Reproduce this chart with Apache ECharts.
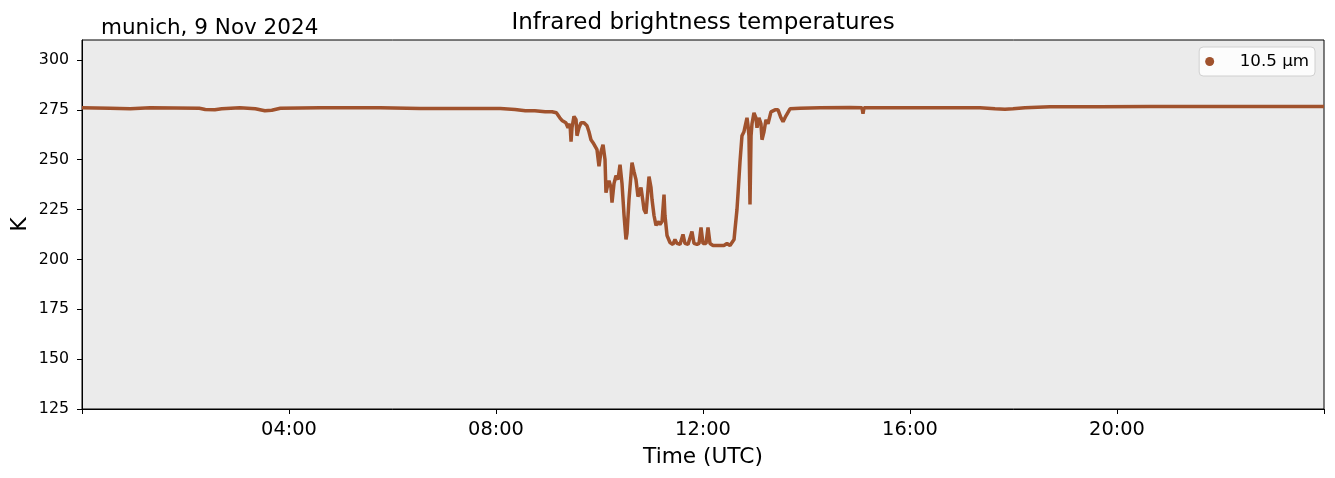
<!DOCTYPE html>
<html>
<head>
<meta charset="utf-8">
<script src="https://cdn.jsdelivr.net/npm/echarts@6/dist/echarts.min.js"></script>
<style>
html,body{margin:0;padding:0;background:#fff;}
#chart{width:1335px;height:478px;}
</style>
</head>
<body>
<div id="chart"></div>
<script>
// time of day in minutes (UTC)
const timeMin = [
  0, 32, 56, 79, 136, 143, 154, 162, 183, 201, 212, 220, 230, 276, 346, 392, 438, 485, 502,
  504, 514, 525, 537, 545, 550, 554, 557, 561, 563.5, 565.8, 567, 568.1, 570.4, 572.8, 573.9,
  576.2, 578.6, 582, 585.5, 587.8, 590.1, 592.5, 594.8, 597.1, 599.4, 601.7, 604.1, 606.4,
  607.5, 609.9, 611, 613.3, 614.5, 616.8, 619.1, 621.4, 623.8, 626.1, 628.4, 630.7, 631.9,
  634.2, 637.7, 640, 642.3, 644.6, 648.1, 650.4, 651.6, 653.9, 656.2, 657.4, 659.7, 660.9,
  663.2, 665.5, 667.8, 670.1, 672.5, 674.8, 675.9, 678.3, 681.7, 685.2, 687.5, 689.9, 693.3,
  696.8, 699.1, 702.6, 704.9, 707.2, 709.6, 713, 715.4, 717.7, 720, 723.5, 725.8, 728.1,
  731.6, 735.1, 739.7, 744.3, 747.8, 751.3, 753.6, 756, 757.1, 759.4, 760.6, 762.9, 765.2,
  767.5, 768.7, 771, 772.2, 773.3, 774.5, 775.7, 776.8, 779.1, 781.4, 782.6, 784.9, 787.2,
  788.4, 790.7, 793, 795.4, 798.8, 803.5, 807, 810.4, 812.8, 816.2, 820.9, 832.5, 855.7,
  890.4, 904.3, 905.5, 906.7, 948.4, 994.8, 1041.2, 1058.6, 1070.1, 1079.4, 1093.3, 1122.3,
  1180.3, 1238.3, 1296.2, 1354.2, 1412.2, 1440
];
// 10.5 µm brightness temperature (K)
const tb105 = [
  276, 275.8, 275.5, 276, 275.8, 275.2, 275, 275.5, 276, 275.5, 274.5, 274.8, 275.8, 276, 276, 275.7, 275.6, 275.6, 275.2,
  275, 274.5, 274.5, 274, 274, 273.5, 271, 269.5, 268.5, 266, 268, 259, 266, 271.7, 270, 262,
  266, 268.5, 268.5, 267, 264, 260, 258.5, 257.5, 255, 246.7, 254, 257.5, 250,
  233.5, 238, 239.5, 236, 228.5, 238, 242, 240, 247.5, 238, 222.5, 210, 213,
  230, 248.5, 244, 240, 231.5, 236, 229, 225, 223, 235, 241.5, 236, 230,
  222, 217, 219, 217.5, 219, 232.5, 222, 212, 208.5, 207.5, 210, 208, 207.5,
  212.5, 208, 207.5, 208, 214, 208, 207.5, 208, 216, 208, 208, 216, 208,
  207, 207, 207, 207, 208, 207, 207.5, 210, 215, 225, 233, 249, 262,
  264, 266.5, 271, 267, 262, 227.5, 262, 268, 273.5, 271, 266, 271, 268,
  260, 264, 270, 268, 274, 275, 275, 271, 269, 272, 275.5, 275.8, 276,
  276.2, 276, 273, 276, 276, 276, 276, 275.5, 275.3, 275.5, 276, 276.5,
  276.5, 276.7, 276.7, 276.7, 276.7, 276.7
];
const yTicks = [125, 150, 175, 200, 225, 250, 275, 300];
const xTicks = [0, 240, 480, 720, 960, 1200, 1440];
const xLabels = [240, 480, 720, 960, 1200];

const fmt = m => {
  const h = Math.floor(m / 60), mm = Math.round(m % 60);
  return String(h).padStart(2, '0') + ':' + String(mm).padStart(2, '0');
};

const chart = echarts.init(document.getElementById('chart'));
const FONT = 'DejaVu Sans';
chart.setOption({
  animation: false,
  backgroundColor: '#fff',
  textStyle: { fontFamily: FONT, color: '#000' },
  title: [
    { text: 'Infrared brightness temperatures', left: 703, top: 12, textAlign: 'center', padding: 0,
      textStyle: { fontFamily: FONT, fontSize: 23, fontWeight: 'normal', color: '#000' } },
    { text: 'munich, 9 Nov 2024', left: 101, top: 17, padding: 0,
      textStyle: { fontFamily: FONT, fontSize: 21.5, fontWeight: 'normal', color: '#000' } }
  ],
  legend: {
    right: 20, top: 47,
    data: [{ name: '10.5 µm', icon: 'circle' }],
    itemWidth: 36, itemHeight: 9,
    padding: [6, 6, 6, 6],
    backgroundColor: 'rgba(255,255,255,0.85)',
    borderColor: '#d0d0d0', borderWidth: 1, borderRadius: 4,
    textStyle: { fontFamily: FONT, fontSize: 16.7, color: '#000', padding: [0, 0, 0, 7] }
  },
  grid: {
    left: 82, right: 11, top: 40, bottom: 69,
    outerBoundsMode: 'none', containLabel: false,
    show: true, backgroundColor: '#ebebeb', borderColor: '#000', borderWidth: 1
  },
  xAxis: {
    type: 'value', min: 0, max: 1440,
    name: 'Time (UTC)', nameLocation: 'middle', nameGap: 37,
    nameTextStyle: { fontFamily: FONT, fontSize: 21.7, color: '#000' },
    axisLine: { show: true, lineStyle: { color: '#000', width: 1 } },
    axisTick: { show: true, inside: false, length: 5, lineStyle: { color: '#000' }, customValues: xTicks },
    axisLabel: { fontFamily: FONT, fontSize: 19.4, color: '#000', margin: 11,
      customValues: xLabels, formatter: v => fmt(v) },
    splitLine: { show: false }
  },
  yAxis: {
    type: 'value', min: 125, max: 310,
    name: 'K', nameLocation: 'middle', nameGap: 51, nameRotate: 90, nameMoveOverlap: false,
    nameTextStyle: { fontFamily: FONT, fontSize: 21.7, color: '#000' },
    axisLine: { show: true, lineStyle: { color: '#000', width: 1 } },
    axisTick: { show: true, inside: false, length: 5, lineStyle: { color: '#000' }, customValues: yTicks },
    axisLabel: { fontFamily: FONT, fontSize: 15.8, color: '#000', margin: 13,
      customValues: yTicks },
    splitLine: { show: false }
  },
  series: [{
    name: '10.5 µm',
    type: 'line',
    data: timeMin.map((t, i) => [t, tb105[i]]),
    showSymbol: false,
    symbol: 'circle',
    symbolSize: 9,
    itemStyle: { color: '#a0522d' },
    lineStyle: { color: '#a0522d', width: 3.5 },
    clip: true
  }]
});
</script>
</body>
</html>
